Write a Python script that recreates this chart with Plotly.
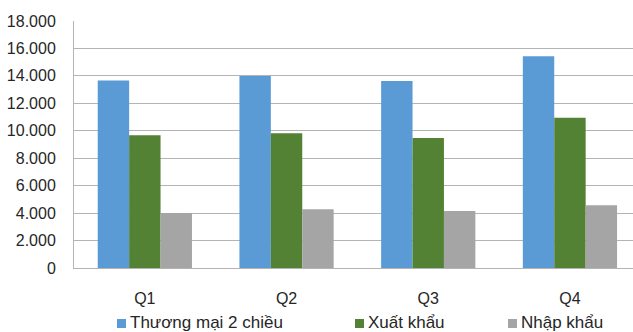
import plotly.graph_objects as go

quarters = ["Q1", "Q2", "Q3", "Q4"]
thuong_mai = [13670, 14000, 13620, 15440]
xuat_khau = [9670, 9820, 9480, 10950]
nhap_khau = [4000, 4290, 4150, 4580]
y_ticks = [0, 2000, 4000, 6000, 8000, 10000, 12000, 14000, 16000, 18000]

series_names = ["Thương mại 2 chiều", "Xuất khẩu", "Nhập khẩu"]
series_colors = ["#5B9BD5", "#548235", "#A5A5A5"]
series_values = [thuong_mai, xuat_khau, nhap_khau]

FONT = "Liberation Sans, Arial, sans-serif"
TEXT = "#262626"
GRID = "#B4B4B4"

fig = go.Figure()
for name, color, vals in zip(series_names, series_colors, series_values):
    fig.add_trace(go.Bar(x=quarters, y=vals, name=name, marker_color=color,
                         marker_line_width=0, showlegend=False))

# legend row drawn below the axis: colour square + label
legend_items = [(117, 128), (355, 366), (508, 519)]
for (sx, tx), name, color in zip(legend_items, series_names, series_colors):
    fig.add_shape(type="rect", xref="paper", yref="paper",
                  x0=(sx - 74) / 559, x1=(sx + 9 - 74) / 559,
                  y0=(268 - 328) / 247, y1=(268 - 319) / 247,
                  fillcolor=color, line_width=0)
    fig.add_annotation(text=name, xref="paper", yref="paper",
                       x=(tx - 74) / 559, y=(268 - 322) / 247,
                       xanchor="left", yanchor="middle", showarrow=False,
                       font=dict(family=FONT, size=17, color=TEXT))

fig.update_layout(
    width=633, height=332,
    margin=dict(l=74, r=0, t=21, b=64),
    paper_bgcolor="white", plot_bgcolor="white",
    barmode="group", bargap=0.335, bargroupgap=0,
    separators=",.",
    font=dict(family=FONT, size=16, color=TEXT),
)
fig.update_xaxes(range=[-0.5, 3.445], showgrid=False,
                 showline=True, linecolor=GRID, linewidth=1,
                 ticks="", ticklabelstandoff=16,
                 tickfont=dict(family=FONT, size=16, color=TEXT))
fig.update_yaxes(range=[0, 18000], tickvals=y_ticks, tickformat=",",
                 showgrid=True, gridcolor=GRID, gridwidth=1,
                 zeroline=False, showline=True, linecolor=GRID, linewidth=1,
                 ticks="", ticklabelstandoff=14,
                 tickfont=dict(family=FONT, size=16, color=TEXT))

fig.write_html("out.html")
